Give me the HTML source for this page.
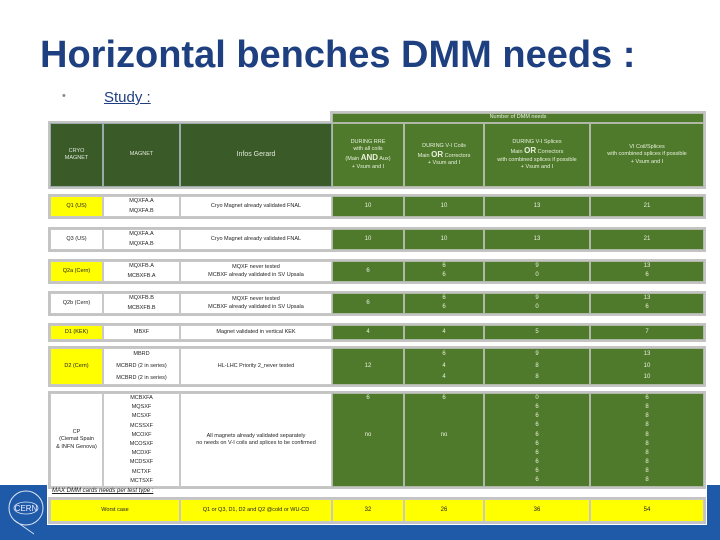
<!DOCTYPE html>
<html><head><meta charset="utf-8">
<style>
body{margin:0;width:720px;height:540px;overflow:hidden;background:#fff;font-family:"Liberation Sans",sans-serif;position:relative}
.a{position:absolute;box-sizing:border-box}
.c{position:absolute;box-sizing:border-box;display:flex;flex-direction:column;align-items:center;justify-content:center;text-align:center;font-size:5.5px;line-height:1.3;color:#222;border:1px solid #c8c8c8;overflow:hidden}
.c>span{display:block;width:100%}
.g{background:#4f7a2c;color:#e8f0dc;border-color:#b0b8a8}
.dg{background:#3a5a28;color:#dfe8d8;border-color:#9aa}
.y{background:#ffff00}
.w{background:#fff}
.fr{position:absolute;box-sizing:border-box;border:2px solid #c4c4c4}
</style></head><body>
<div class="a" style="left:0;top:485px;width:720px;height:55px;background:#1f5aa8"></div>
<svg class="a" style="left:4px;top:486px" width="44" height="50" viewBox="0 0 44 50">
<ellipse cx="22" cy="22" rx="17" ry="17" fill="none" stroke="#dde6f4" stroke-width="1"/>
<ellipse cx="22" cy="22" rx="12" ry="6" fill="none" stroke="#dde6f4" stroke-width="0.8"/>
<text x="22" y="25" font-size="8" fill="#eef" text-anchor="middle" font-family="Liberation Sans">CERN</text>
<line x1="10" y1="34" x2="30" y2="48" stroke="#dde6f4" stroke-width="0.8"/>
</svg>
<div class="a" style="left:47px;top:485px;width:660px;height:40px;background:#fff"></div>
<div class="a" style="left:40px;top:34px;font-size:38px;font-weight:bold;color:#1e3f80;white-space:nowrap">Horizontal benches DMM needs :</div>
<div class="a" style="left:62px;top:90px;font-size:11px;color:#888">•</div>
<div class="a" style="left:104px;top:89px;font-size:15px;color:#1e3f80;text-decoration:underline">Study :</div>
<div id="tbl"></div>
<script>
const cols=[50,103,180,332,404,484,590,704];
const rowNames=["q1","q3","q2a","q2b","d1","d2","cp"];
const rowTops=[196,229,261,293,325,348,393];
const rowHeights=[21,21,21,21,15,37,94];
const cryo=["Q1 (US)","Q3 (US)","Q2a (Cern)","Q2b (Cern)","D1 (KEK)","D2 (Cern)","CP<br>(Ciemat Spain<br>&amp; INFN Genova)"];
const cryoYellow=[true,false,true,false,true,true,false];
const magnets=[["MQXFA.A","MQXFA.B"],["MQXFA.A","MQXFA.B"],["MQXFB.A","MCBXFB.A"],["MQXFB.B","MCBXFB.B"],["MBXF"],["MBRD","MCBRD (2 in series)","MCBRD (2 in series)"],["MCBXFA","MQSXF","MCSXF","MCSSXF","MCOXF","MCOSXF","MCDXF","MCDSXF","MCTXF","MCTSXF"]];
const infos=["Cryo Magnet already validated FNAL","Cryo Magnet already validated FNAL","MQXF never tested<br>MCBXF already validated in SV Upsala","MQXF never tested<br>MCBXF already validated in SV Upsala","Magnet validated in vertical KEK","HL-LHC Priority 2_never tested","All magnets already validated separately<br>no needs on V-I coils and splices to be confirmed"];
const v1=[["10"],["10"],["6"],["6"],["4"],["12"],["6","","","","no","","","","",""]];
const v2=[["10"],["10"],["6","6"],["6","6"],["4"],["6","4","4"],["6","","","","no","","","","",""]];
const v3=[["13"],["13"],["9","0"],["9","0"],["5"],["9","8","8"],["0","6","6","6","6","6","6","6","6","6"]];
const v4=[["21"],["21"],["13","6"],["13","6"],["7"],["13","10","10"],["6","8","8","8","8","8","8","8","8","8"]];
const worst=["32","26","36","54"];
const T=document.getElementById('tbl');
function frame(x,y,w,h,name){
  const f=document.createElement('div');
  f.className='fr';
  f.style.cssText=`left:${x}px;top:${y}px;width:${w}px;height:${h}px`;
  
  
  T.appendChild(f);
}
function mk(x,y,w,h,cls,html,name){
  const d=document.createElement('div');
  d.className='c '+cls;
  d.style.cssText=`left:${x}px;top:${y}px;width:${w}px;height:${h}px`;
  d.innerHTML=html;
  
  
  T.appendChild(d);return d;
}
function lines(arr){return arr.map(s=>`<div style="height:${100/arr.length}%;width:100%;display:flex;align-items:center;justify-content:center">${s}</div>`).join('');}
frame(330,111,376,78,'header-frame');
frame(48,121,284,68,'header-left-frame');
mk(332,113,372,10,'g','<span>Number of DMM needs</span>','header-number-of-dmm-needs');
mk(50,123,53,64,'dg','<span>CRYO<br>MAGNET</span>','header-cryo-magnet');
mk(103,123,77,64,'dg','<span>MAGNET</span>','header-magnet');
mk(180,123,152,64,'dg','<span style="font-size:7px">Infos Gerard</span>','header-infos');
mk(332,123,72,64,'g','<span>DURING RRE<br>with all coils<br>(Main <b style="font-size:8px">AND</b> Aux)<br>+ Vsum and I</span>','header-during-rre');
mk(404,123,80,64,'g','<span>DURING V-I Coils<br>Main <b style="font-size:8px">OR</b> Correctors<br>+ Vsum and I</span>','header-vi-coils');
mk(484,123,106,64,'g','<span>DURING V-I Splices<br>Main <b style="font-size:8px">OR</b> Correctors<br>with combined splices if possible<br>+ Vsum and I</span>','header-vi-splices');
mk(590,123,114,64,'g','<span>VI Coil/Splices<br>with combined splices if possible<br>+ Vsum and I</span>','header-vi-coil-splices');
const vals=[v1,v2,v3,v4];
rowNames.forEach((r,i)=>{
  const y=rowTops[i],h=rowHeights[i];
  frame(48,y-2,658,h+4,r+'-frame');
  mk(cols[0],y,cols[1]-cols[0],h,cryoYellow[i]?'y':'w','<span>'+cryo[i]+'</span>',r+'-cryo');
  mk(cols[1],y,cols[2]-cols[1],h,'w',lines(magnets[i]),r+'-magnets');
  mk(cols[2],y,cols[3]-cols[2],h,'w','<span>'+infos[i]+'</span>',r+'-info');
  vals.forEach((v,k)=>{
    const arr=v[i];
    const d=mk(cols[3+k],y,cols[4+k]-cols[3+k],h,'g',arr.length>1?lines(arr):'<span>'+arr[0]+'</span>',r+'-value-'+(k+1));
    d.style.fontSize='6px';
  });
});
const note=document.createElement('div');
note.className='a';
note.style.cssText='left:50px;top:488px;font-size:6px;font-style:italic;text-decoration:underline;color:#222;width:114px;height:11px;padding-left:2px';
note.textContent='MAX DMM cards needs per test type :';


T.appendChild(note);
frame(48,497,658,27,'worst-case-frame');
mk(50,499,130,23,'y','<span>Worst case</span>','worst-case-label');
mk(180,499,152,23,'y','<span>Q1 or Q3, D1, D2 and Q2 @cold or WU-CD</span>','worst-case-info');
worst.forEach((w,k)=>{
  const d=mk(cols[3+k],499,cols[4+k]-cols[3+k],23,'y','<span>'+w+'</span>','worst-case-value-'+(k+1));
  d.style.fontSize='6px';
});
</script>
</body></html>
